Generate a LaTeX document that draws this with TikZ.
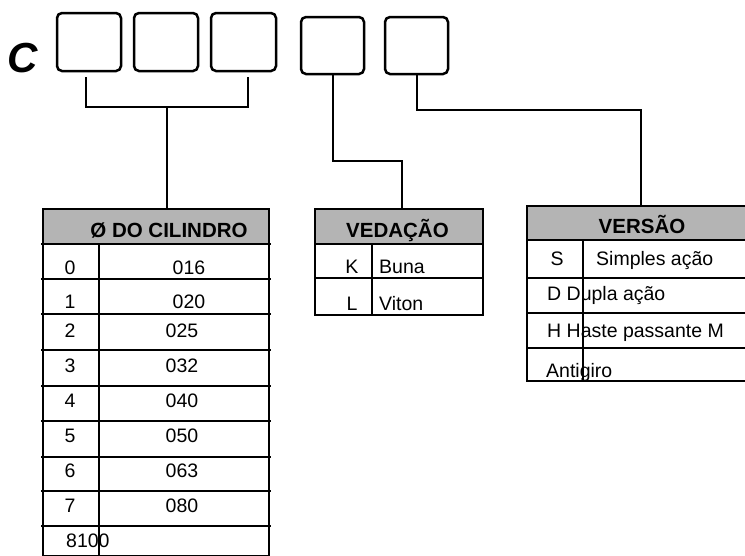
\documentclass[tikz,border=0pt]{standalone}
\usepackage{fontspec}
\setmainfont{Liberation Sans}
\definecolor{hdrgray}{RGB}{180,180,180}
\begin{document}
\begin{tikzpicture}[x=1pt,y=-1pt,
  bx/.style={draw,line width=2.5pt,rounded corners=5pt,minimum width=64pt,minimum height=58pt,inner sep=0pt},
  conn/.style={draw,line width=2pt},
  tbl/.style={line width=2pt},
  txt/.style={inner sep=0pt,font=\fontsize{19.5}{22}\selectfont},
  hdr/.style={inner sep=0pt,font=\fontsize{20.5}{23}\selectfont\bfseries},
]
\useasboundingbox (0,0) rectangle (745,555);
% code letter
\node[inner sep=0pt,anchor=base,font=\fontsize{42}{44}\selectfont\bfseries\itshape] (c) at (23,72) {C};
% boxes
\node[bx] (b1) at (89,42) {};
\node[bx] (b2) at (166,42) {};
\node[bx,minimum width=65pt] (b3) at (243.5,42) {};
\node[bx,minimum width=63pt,minimum height=57pt] (b4) at (332.5,45.5) {};
\node[bx,minimum width=63pt,minimum height=57pt] (b5) at (416.5,45.5) {};
% bracket coordinates
\coordinate (bl) at (86,77);
\coordinate (br) at (248,77);
\coordinate (bm) at (167,107);
% table 1 (diameter)
\fill[hdrgray] (43,209) rectangle (269,244);
\draw[tbl] (43,209) rectangle (269,556);
\foreach \yy in {244,279,314,350,386,421,457,491,526}{\draw[tbl] (41,\yy) -- (271,\yy);}
\draw[tbl] (99,244) -- (99,556);
\node[hdr,anchor=base] (h1) at (169,237) {Ø DO CILINDRO};
\coordinate (t1) at (167,209);
\foreach \k/\v/\vx/\yb in {0/016/189/274,1/020/189/308,2/025/182/337,3/032/182/372,4/040/182/407,5/050/182/442,6/063/182/477,7/080/182/512}{
  \node[txt,anchor=base] (k\k) at (70,\yb) {\k};
  \node[txt,anchor=base] (v\k) at (\vx,\yb) {\v};
}
\node[txt,anchor=base west] (k8) at (66,547) {8100};
% table 2 (seal)
\fill[hdrgray] (315,209) rectangle (483,244);
\draw[tbl] (315,209) rectangle (483,315);
\draw[tbl] (315,244) -- (483,244);
\draw[tbl] (315,278) -- (483,278);
\draw[tbl] (372,244) -- (372,315);
\node[hdr,anchor=base] (h2) at (397.5,237) {VEDAÇÃO};
\coordinate (t2) at (402,209);
\node[txt,anchor=base] (sk) at (352,273) {K};
\node[txt,anchor=base west] (sb) at (379,273) {Buna};
\node[txt,anchor=base] (sl) at (352,310) {L};
\node[txt,anchor=base west] (sv) at (379,310) {Viton};
% table 3 (version)
\fill[hdrgray] (527,206) rectangle (750,240);
\draw[tbl] (750,206) -- (527,206) -- (527,381) -- (750,381);
\foreach \yy in {240,278,313,348}{\draw[tbl] (527,\yy) -- (750,\yy);}
\draw[tbl] (583,240) -- (583,381);
\node[hdr,anchor=base] (h3) at (642,233) {VERSÃO};
\coordinate (t3) at (641,206);
\node[txt,anchor=base] (vs) at (557,265) {S};
\node[txt,anchor=base west] (vsa) at (596,265) {Simples ação};
\node[txt,anchor=base west] (vd) at (547,300) {D Dupla ação};
\node[txt,anchor=base west] (vh) at (547,337) {H Haste passante M};
\node[txt,anchor=base west] (va) at (546,377) {Antigiro};
% connectors
\draw[conn] (bl) |- (bm) -| (br);
\draw[conn] (bm) -- (t1);
\draw[conn] (b4.south) |- (402,161) -- (t2);
\draw[conn] (b5.south) |- (641,110) -- (t3);
\end{tikzpicture}
\end{document}
